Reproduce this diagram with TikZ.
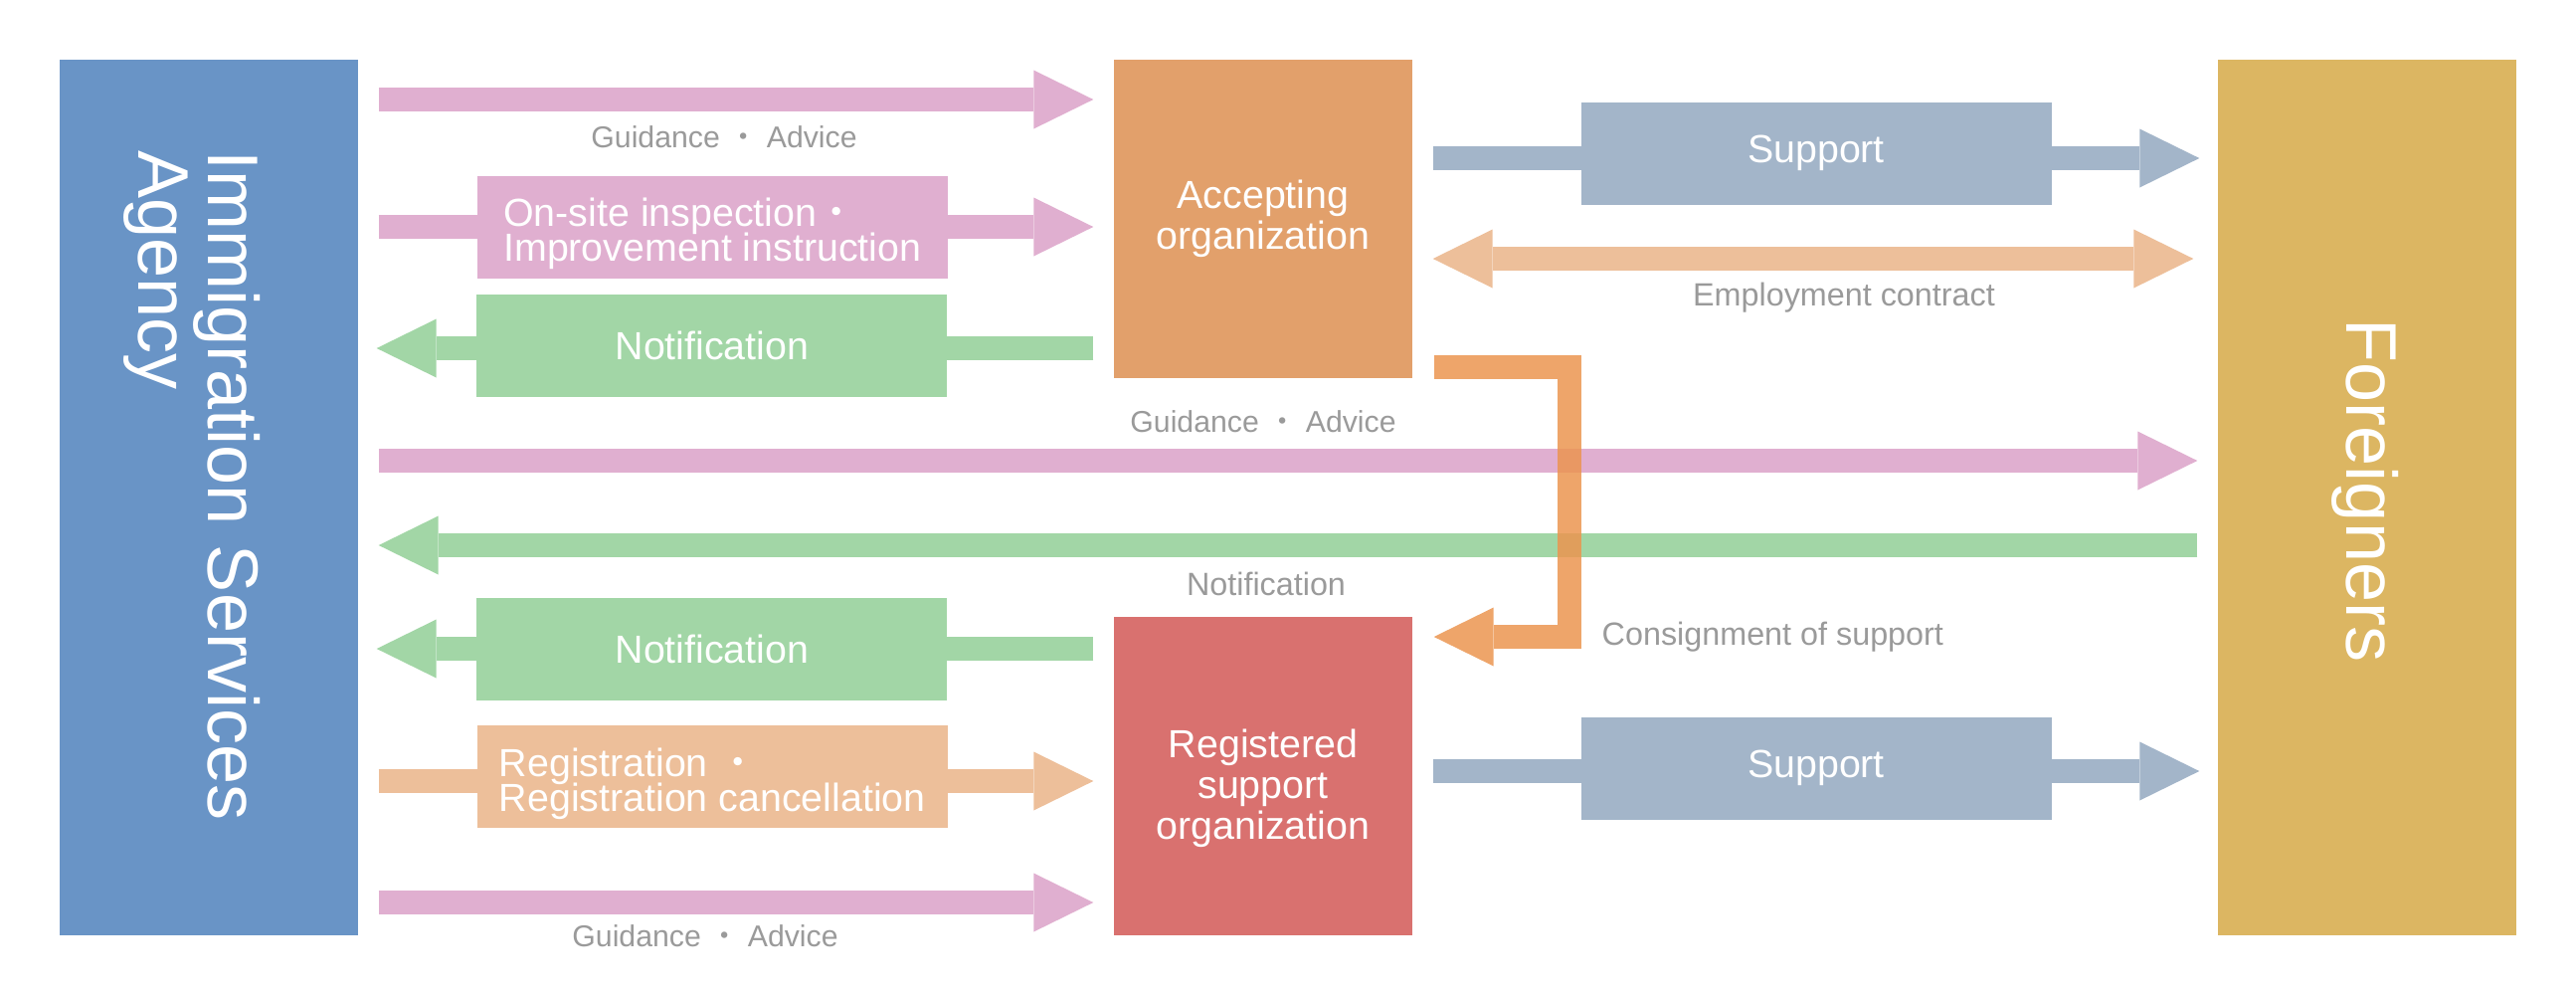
\documentclass[tikz,border=0pt]{standalone}
\usepackage{fontspec}
\setmainfont{Liberation Sans}
\newfontfamily\cjk{Noto Sans CJK JP}
\usetikzlibrary{arrows.meta,positioning}

\definecolor{agencyblue}{HTML}{6994C6}
\definecolor{acceptorange}{HTML}{E2A06B}
\definecolor{registeredred}{HTML}{D9716F}
\definecolor{foreignyellow}{HTML}{DCB662}
\definecolor{guidepink}{HTML}{E0AFD0}
\definecolor{notifygreen}{HTML}{A2D6A6}
\definecolor{supportgray}{HTML}{A3B5C9}
\definecolor{registerpeach}{HTML}{EDBF9A}
\definecolor{consignorange}{HTML}{EB9550}
\definecolor{labelgray}{HTML}{9A9A9A}

\newcommand{\nakaguro}{{\cjk ・}}

\begin{document}
\setlength{\lineskiplimit}{-5pt}
\begin{tikzpicture}[
    x=0.1mm, y=-0.1mm,
    % big blocks and the labels riding on the arrows
    bigbox/.style={rectangle, minimum width=30mm, inner sep=0pt, text=white, align=center, font=\fontsize{11.2}{11.6}\selectfont},
    tagbox/.style={rectangle, minimum width=47.3mm, minimum height=10.3mm, inner sep=0pt, text=white, font=\fontsize{11.2}{9.8}\selectfont},
    side/.style={rotate=-90, text=white, align=left, inner sep=0pt, font=\fontsize{20.5}{20}\selectfont},
    note/.style={text=labelgray, inner sep=0pt, font=\fontsize{9.2}{11}\selectfont},
    guidenote/.style={note, font=\fontsize{8.6}{10}\selectfont},
    % fat arrows
    flow/.style={line width=2.4mm, -{Triangle[length=6mm, width=5.9mm, line width=0pt]}},
    twoway/.style={line width=2.4mm, {Triangle[length=6mm, width=5.9mm, line width=0pt]}-{Triangle[length=6mm, width=5.9mm, line width=0pt]}}
]
\useasboundingbox (0,0) rectangle (2590,1000);

% Main blocks
\node[bigbox, fill=agencyblue, minimum height=88mm] (ias) at (210,500) {};
\node[side] (iastext) at (193,488) {Immigration Services\\Agency};

\node[bigbox, fill=acceptorange, minimum height=32mm] (acc) at (1270,220) {Accepting\\organization};
\node[bigbox, fill=registeredred, minimum height=32mm] (reg) at (1270,780) {\rule{0pt}{5.3mm}Registered\\support\\organization};

\node[bigbox, fill=foreignyellow, minimum height=88mm] (frg) at (2380,500) {};
\node[side] (frgtext) at (2378,493) {Foreigners};

% Rows of the arrows
\coordinate (rowguide1) at (0,100);
\coordinate (rowonsite) at (0,228);
\coordinate (rownotif1) at (0,350);
\coordinate (rowguide2) at (0,463);
\coordinate (rownotif2) at (0,548);
\coordinate (rownotif3) at (0,652);
\coordinate (rowregist) at (0,785);
\coordinate (rowguide3) at (0,907);
\coordinate (rowsupport1) at (0,159);
\coordinate (rowcontract) at (0,260);
\coordinate (rowconsign) at (0,640);
\coordinate (rowsupport2) at (0,775);

% Immigration Services Agency <-> Accepting organization
\draw[flow, guidepink] ([xshift=2mm]ias.east |- rowguide1) -- ([xshift=-2mm]acc.west |- rowguide1);
\node[guidenote] (guide1) at (728,138) {Guidance \nakaguro\ Advice};

\draw[flow, guidepink] ([xshift=2mm]ias.east |- rowonsite) --
    node[tagbox, fill=guidepink, align=left, pos=0.467] (onsite) {\rule{0pt}{4.2mm}On-site inspection\nakaguro\\Improvement instruction}
    ([xshift=-2mm]acc.west |- rowonsite);

\draw[flow, notifygreen] ([xshift=-2mm]acc.west |- rownotif1) --
    node[tagbox, fill=notifygreen, pos=0.532, yshift=0.25mm] (notif1) {Notification}
    ([xshift=1.8mm]ias.east |- rownotif1);

% Immigration Services Agency <-> Foreigners
\draw[flow, guidepink] ([xshift=2mm]ias.east |- rowguide2) -- ([xshift=-2mm]frg.west |- rowguide2);
\node[guidenote] (guide2) at (1270,424) {Guidance \nakaguro\ Advice};

\draw[flow, notifygreen] ([xshift=-2mm]frg.west |- rownotif2) -- ([xshift=2mm]ias.east |- rownotif2);
\node[note] (notif2) at (1273,587) {Notification};

% Immigration Services Agency <-> Registered support organization
\draw[flow, notifygreen] ([xshift=-2mm]reg.west |- rownotif3) --
    node[tagbox, fill=notifygreen, pos=0.532] (notif3) {Notification}
    ([xshift=1.8mm]ias.east |- rownotif3);

\draw[flow, registerpeach] ([xshift=2mm]ias.east |- rowregist) --
    node[tagbox, fill=registerpeach, align=left, pos=0.467, yshift=0.45mm] (regist) {\rule{0pt}{4.3mm}Registration \nakaguro\\Registration cancellation}
    ([xshift=-2mm]reg.west |- rowregist);

\draw[flow, guidepink] ([xshift=2mm]ias.east |- rowguide3) -- ([xshift=-2mm]reg.west |- rowguide3);
\node[guidenote] (guide3) at (709,941) {Guidance \nakaguro\ Advice};

% Organizations <-> Foreigners
\draw[flow, supportgray] ([xshift=2mm]acc.east |- rowsupport1) --
    node[tagbox, fill=supportgray, yshift=0.5mm] (support1) {Support}
    ([xshift=-1.8mm]frg.west |- rowsupport1);

\draw[twoway, registerpeach] ([xshift=2mm]acc.east |- rowcontract) -- ([xshift=-2.4mm]frg.west |- rowcontract);
\node[note] (contract) at (1854,299) {Employment contract};

\draw[flow, supportgray] ([xshift=2mm]reg.east |- rowsupport2) --
    node[tagbox, fill=supportgray, yshift=0.3mm] (support2) {Support}
    ([xshift=-1.8mm]frg.west |- rowsupport2);

% Consignment of support
\draw[flow, consignorange, opacity=0.85, line join=miter]
    ([xshift=2.1mm, yshift=1.2mm]acc.south east) -- ++(13.6mm,0) |- ([xshift=2.1mm]reg.east |- rowconsign);
\node[note, anchor=west] (consign) at (1610,640) {Consignment of support};

\end{tikzpicture}
\end{document}
